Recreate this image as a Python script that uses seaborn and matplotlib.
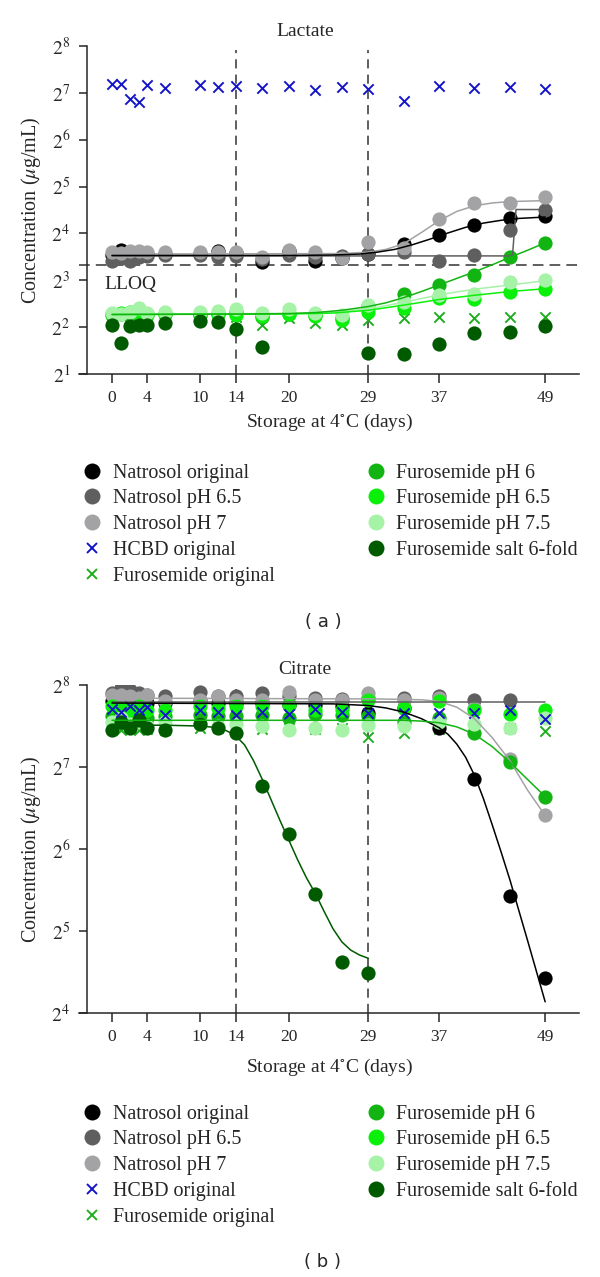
import numpy as np
import matplotlib
matplotlib.use("Agg")
import matplotlib.pyplot as plt
import seaborn as sns
from matplotlib.lines import Line2D

nan = np.nan

# sampling days (storage at 4 C)
days = [0, 1, 2, 3, 4, 6, 10, 12, 14, 17, 20, 23, 26, 29, 33, 37, 41, 45, 49]
day_ticks = [0, 4, 10, 14, 20, 29, 37, 49]
storage_marks = [14, 29]
lloq = 10  # ug/mL

# all values below are log2 of the concentration (ug/mL)
# ---- Lactate ----
lac_nat_orig = [3.55, 3.64, 3.52, 3.55, 3.57, 3.56, 3.57, 3.62, 3.58, 3.40, 3.62, 3.42, 3.48, 3.57, 3.77, 3.96, 4.19, 4.32, 4.37]
lac_nat_65 = [3.42, 3.48, 3.42, 3.50, 3.52, 3.55, 3.55, 3.50, 3.52, 3.45, 3.55, 3.50, 3.52, 3.57, 3.61, 3.42, 3.54, 4.08, 4.51]
lac_nat_7 = [3.60, 3.58, 3.62, 3.62, 3.60, 3.60, 3.61, 3.60, 3.61, 3.50, 3.64, 3.61, 3.47, 3.82, 3.68, 4.30, 4.64, 4.64, 4.77]
lac_hcbd = [7.18, 7.18, 6.86, 6.81, 7.16, 7.11, 7.17, 7.13, 7.15, 7.11, 7.15, 7.07, 7.12, 7.09, 6.83, 7.14, 7.10, 7.12, 7.08]
lac_furo_orig = [2.24, 2.24, 2.26, 2.25, 2.24, 2.24, 2.22, 2.22, 2.22, 2.04, 2.20, 2.08, 2.04, 2.16, 2.19, 2.22, 2.19, 2.22, 2.22]
lac_furo_6 = [2.25, 2.27, 2.30, 2.33, 2.28, 2.27, 2.25, 2.28, 2.33, 2.22, 2.28, 2.25, 2.20, 2.45, 2.71, 2.90, 3.11, 3.50, 3.80]
lac_furo_65 = [2.27, 2.30, 2.33, 2.28, 2.25, 2.27, 2.26, 2.28, 2.25, 2.24, 2.27, 2.24, 2.16, 2.33, 2.41, 2.62, 2.60, 2.76, 2.81]
lac_furo_75 = [2.30, 2.28, 2.33, 2.40, 2.30, 2.33, 2.33, 2.35, 2.38, 2.30, 2.38, 2.31, 2.25, 2.47, 2.54, 2.68, 2.71, 2.96, 3.00]
lac_furo_salt = [2.04, 1.67, 2.03, 2.04, 2.04, 2.08, 2.13, 2.10, 1.95, 1.58, nan, nan, nan, 1.45, 1.42, 1.63, 1.88, 1.90, 2.03]

# fitted curves (lactate)
lac_fit_nat_orig_d = [0, 20, 25, 28, 30, 32, 34, 36, 38, 40, 42, 44, 46, 49]
lac_fit_nat_orig = [3.53, 3.53, 3.54, 3.56, 3.60, 3.66, 3.76, 3.88, 4.01, 4.13, 4.22, 4.28, 4.32, 4.35]
lac_fit_nat_65_d = [0, 45.3, 45.7, 49]
lac_fit_nat_65 = [3.52, 3.52, 4.51, 4.51]
lac_fit_nat_7_d = [0, 26, 29, 31, 33, 35, 37, 39, 41, 43, 45, 49]
lac_fit_nat_7 = [3.56, 3.57, 3.60, 3.66, 3.78, 4.02, 4.27, 4.47, 4.59, 4.65, 4.68, 4.70]
lac_fit_furo_6_d = [0, 15, 20, 23, 26, 29, 31, 33, 35, 37, 39, 41, 43, 45, 47, 49]
lac_fit_furo_6 = [2.27, 2.28, 2.29, 2.31, 2.36, 2.44, 2.52, 2.63, 2.76, 2.90, 3.04, 3.18, 3.33, 3.49, 3.64, 3.80]
lac_fit_furo_65_d = [0, 20, 25, 29, 33, 37, 41, 45, 49]
lac_fit_furo_65 = [2.27, 2.28, 2.30, 2.36, 2.47, 2.59, 2.68, 2.76, 2.82]
lac_fit_furo_75_d = [0, 20, 25, 29, 33, 37, 41, 45, 49]
lac_fit_furo_75 = [2.28, 2.29, 2.32, 2.39, 2.53, 2.69, 2.81, 2.90, 2.99]

# ---- Citrate ----
cit_nat_orig = [7.80, 7.82, 7.80, 7.80, 7.78, 7.78, 7.80, 7.78, 7.78, 7.78, 7.76, 7.76, 7.75, 7.66, 7.72, 7.47, 6.85, 5.43, 4.43]
cit_nat_65 = [7.90, 7.96, 7.94, 7.90, 7.88, 7.86, 7.92, 7.86, 7.86, 7.90, 7.86, 7.84, 7.83, 7.84, 7.84, 7.86, 7.82, 7.82, nan]
cit_nat_7 = [7.88, 7.88, 7.86, 7.84, 7.88, 7.80, 7.82, 7.86, 7.82, 7.82, 7.92, 7.82, 7.82, 7.90, 7.82, 7.84, 7.72, 7.10, 6.41]
cit_hcbd = [7.71, 7.67, 7.75, 7.69, 7.73, 7.64, 7.70, 7.67, 7.64, 7.67, 7.65, 7.71, 7.67, 7.66, 7.66, 7.66, 7.66, 7.69, 7.59]
cit_furo_orig = [7.46, 7.45, 7.47, 7.45, 7.46, 7.45, 7.48, 7.47, 7.46, 7.46, 7.47, 7.46, 7.47, 7.37, 7.41, 7.46, 7.47, 7.48, 7.44]
cit_furo_6 = [7.62, 7.64, 7.66, 7.62, 7.60, 7.62, 7.64, 7.62, 7.62, 7.63, 7.60, 7.65, 7.63, 7.62, 7.55, 7.60, 7.41, 7.06, 6.63]
cit_furo_65 = [7.74, 7.72, 7.70, 7.74, 7.70, 7.70, 7.74, 7.72, 7.74, 7.74, 7.76, 7.70, 7.70, 7.82, 7.72, 7.80, 7.70, 7.65, 7.70]
cit_furo_75 = [7.55, 7.60, 7.52, 7.55, 7.50, 7.55, 7.52, 7.50, 7.52, 7.50, 7.45, 7.47, 7.45, 7.51, 7.50, 7.55, 7.53, 7.48, 7.60]
cit_furo_salt = [7.45, 7.55, 7.47, 7.57, 7.47, 7.45, 7.53, 7.48, 7.42, 6.77, 6.19, 5.45, 4.62, 4.49, nan, nan, nan, nan, nan]

# fitted curves (citrate)
cit_fit_nat_orig_d = [0, 25, 29, 31, 33, 35, 37, 38, 39, 40, 41, 42, 43, 44, 45, 47, 49]
cit_fit_nat_orig = [7.78, 7.77, 7.75, 7.72, 7.67, 7.59, 7.48, 7.40, 7.28, 7.12, 6.90, 6.62, 6.30, 5.97, 5.63, 4.89, 4.14]
cit_fit_nat_65_d = [0, 49]
cit_fit_nat_65 = [7.79, 7.79]
cit_fit_nat_7_d = [0, 30, 35, 37, 39, 41, 43, 45, 47, 49]
cit_fit_nat_7 = [7.84, 7.83, 7.82, 7.80, 7.73, 7.59, 7.36, 7.08, 6.72, 6.41]
cit_fit_furo_6_d = [0, 33, 35, 37, 39, 41, 43, 45, 47, 49]
cit_fit_furo_6 = [7.57, 7.57, 7.56, 7.54, 7.49, 7.40, 7.25, 7.06, 6.85, 6.64]
cit_fit_salt_d = [0, 6, 10, 12, 13, 14, 15, 16, 17, 18, 19, 20, 21, 22, 23, 24, 25, 26, 27, 28, 29]
cit_fit_salt = [7.51, 7.51, 7.50, 7.48, 7.44, 7.38, 7.27, 7.08, 6.85, 6.60, 6.35, 6.11, 5.87, 5.65, 5.46, 5.24, 5.03, 4.87, 4.77, 4.71, 4.67]

labels = ["Natrosol original", "Natrosol pH 6.5", "Natrosol pH 7", "HCBD original",
          "Furosemide original", "Furosemide pH 6", "Furosemide pH 6.5",
          "Furosemide pH 7.5", "Furosemide salt 6-fold"]
colors = {
    "Natrosol original": "#000000",
    "Natrosol pH 6.5": "#5f5f5f",
    "Natrosol pH 7": "#a3a3a6",
    "HCBD original": "#1414c8",
    "Furosemide original": "#1fae1f",
    "Furosemide pH 6": "#12b412",
    "Furosemide pH 6.5": "#0af00a",
    "Furosemide pH 7.5": "#a6f2a6",
    "Furosemide salt 6-fold": "#005a00",
}

sns.set_style("ticks")
plt.rcParams["font.family"] = ["Liberation Serif", "DejaVu Serif"]
plt.rcParams["mathtext.fontset"] = "stix"

W, H = 600, 1277
fig = plt.figure(figsize=(W / 100, H / 100), dpi=100)


def fx(px):
    return px / W


def fy(py):
    return 1 - py / H


def pw(v):
    return 2.0 ** np.asarray(v, dtype=float)


def draw_panel(ax, pts, fits, ylo, yhi):
    # green crosses underneath, circles, blue crosses, then fit curves on top
    name, vals = pts["Furosemide original"]
    sns.scatterplot(x=days, y=pw(vals), marker="x", s=55, linewidth=1.4,
                    color=colors[name], ax=ax, zorder=2)
    for name in ["Natrosol original", "Natrosol pH 6.5", "Natrosol pH 7",
                 "Furosemide pH 6", "Furosemide pH 6.5", "Furosemide pH 7.5",
                 "Furosemide salt 6-fold"]:
        vals = pts[name][1]
        sns.scatterplot(x=days, y=pw(vals), marker="o", s=105, linewidth=0,
                        color=colors[name], ax=ax, zorder=3)
    vals = pts["HCBD original"][1]
    sns.scatterplot(x=days, y=pw(vals), marker="x", s=55, linewidth=1.4,
                    color=colors["HCBD original"], ax=ax, zorder=4)
    for name, (fd, fv) in fits.items():
        sns.lineplot(x=fd, y=pw(fv), color=colors[name], lw=1.1,
                     estimator=None, ax=ax, zorder=5)

    ax.set_yscale("log", base=2)
    ax.set_xlim(-3.79, 52.86)
    ax.set_ylim(2 ** ylo, 2 ** yhi)
    ax.set_yticks([2 ** i for i in range(ylo, yhi + 1)])
    ax.set_yticklabels([f"$2^{{{i}}}$" for i in range(ylo, yhi + 1)])
    ax.yaxis.set_minor_locator(matplotlib.ticker.NullLocator())
    ax.set_xticks(day_ticks)
    ax.set_xticklabels([str(d) for d in day_ticks])
    ax.set_xlabel("")
    ax.set_ylabel("")
    sns.despine(ax=ax)
    ax.spines["left"].set_position(("data", -2.86))
    ax.spines["left"].set_bounds(2 ** ylo, 2 ** yhi)
    for s in ["left", "bottom"]:
        ax.spines[s].set_linewidth(1.1)
    ax.tick_params(axis="x", length=6.5, width=1.1, pad=5, labelsize=12.5)
    ax.tick_params(axis="y", length=6, width=1.1, pad=6, labelsize=14)
    for d in storage_marks:
        ax.axvline(d, ymin=0, ymax=0.987, color="#333333", lw=1.1,
                   dashes=(6, 4), zorder=1)


def add_legends(top_px):
    col1 = labels[:5]
    col2 = labels[5:]
    for col, x0 in [(col1, 84.2), (col2, 367.7)]:
        handles = []
        for name in col:
            if name in ("HCBD original", "Furosemide original"):
                h = Line2D([], [], ls="", marker="x", markersize=7.5, mew=1.4,
                           color=colors[name])
            else:
                h = Line2D([], [], ls="", marker="o", markersize=11.5, mew=0,
                           color=colors[name])
            handles.append(h)
        fig.legend(handles, col, loc="upper left",
                   bbox_to_anchor=(fx(x0), fy(top_px)), frameon=False,
                   borderpad=0, borderaxespad=0, handlelength=0.8,
                   handletextpad=0.63, labelspacing=0.34, fontsize=14.4)


# ---- panel (a) Lactate ----
ax_a = fig.add_axes([fx(78.5), fy(374), fx(500.8), 328 / H])
pts_a = {
    "Natrosol original": ("Natrosol original", lac_nat_orig),
    "Natrosol pH 6.5": ("Natrosol pH 6.5", lac_nat_65),
    "Natrosol pH 7": ("Natrosol pH 7", lac_nat_7),
    "HCBD original": ("HCBD original", lac_hcbd),
    "Furosemide original": ("Furosemide original", lac_furo_orig),
    "Furosemide pH 6": ("Furosemide pH 6", lac_furo_6),
    "Furosemide pH 6.5": ("Furosemide pH 6.5", lac_furo_65),
    "Furosemide pH 7.5": ("Furosemide pH 7.5", lac_furo_75),
    "Furosemide salt 6-fold": ("Furosemide salt 6-fold", lac_furo_salt),
}
fits_a = {
    "Natrosol pH 6.5": (lac_fit_nat_65_d, lac_fit_nat_65),
    "Natrosol pH 7": (lac_fit_nat_7_d, lac_fit_nat_7),
    "Natrosol original": (lac_fit_nat_orig_d, lac_fit_nat_orig),
    "Furosemide pH 7.5": (lac_fit_furo_75_d, lac_fit_furo_75),
    "Furosemide pH 6.5": (lac_fit_furo_65_d, lac_fit_furo_65),
    "Furosemide pH 6": (lac_fit_furo_6_d, lac_fit_furo_6),
}
draw_panel(ax_a, pts_a, fits_a, 1, 8)
ax_a.axhline(lloq, color="#333333", lw=1.1, dashes=(7, 4), zorder=1)
ax_a.text(-0.9, 2 ** 2.92, "LLOQ", fontsize=14, ha="left", va="center")

fig.text(fx(305), fy(31), "Lactate", ha="center", va="center", fontsize=14)
fig.text(fx(30.6), fy(210), r"Concentration ($\mu$g/mL)", rotation=90,
         ha="center", va="center", fontsize=14.5)
fig.text(fx(330), fy(422.5), r"Storage at 4$^{\circ}$C (days)", ha="center",
         va="center", fontsize=14)
add_legends(463.5)
fig.text(fx(323), fy(621.7), "( a )", ha="center", va="center", fontsize=13,
         family="DejaVu Sans")

# ---- panel (b) Citrate ----
ax_b = fig.add_axes([fx(78.5), fy(1013.3), fx(500.8), 328.3 / H])
pts_b = {
    "Natrosol original": ("Natrosol original", cit_nat_orig),
    "Natrosol pH 6.5": ("Natrosol pH 6.5", cit_nat_65),
    "Natrosol pH 7": ("Natrosol pH 7", cit_nat_7),
    "HCBD original": ("HCBD original", cit_hcbd),
    "Furosemide original": ("Furosemide original", cit_furo_orig),
    "Furosemide pH 6": ("Furosemide pH 6", cit_furo_6),
    "Furosemide pH 6.5": ("Furosemide pH 6.5", cit_furo_65),
    "Furosemide pH 7.5": ("Furosemide pH 7.5", cit_furo_75),
    "Furosemide salt 6-fold": ("Furosemide salt 6-fold", cit_furo_salt),
}
fits_b = {
    "Natrosol pH 7": (cit_fit_nat_7_d, cit_fit_nat_7),
    "Natrosol pH 6.5": (cit_fit_nat_65_d, cit_fit_nat_65),
    "Natrosol original": (cit_fit_nat_orig_d, cit_fit_nat_orig),
    "Furosemide pH 6": (cit_fit_furo_6_d, cit_fit_furo_6),
    "Furosemide salt 6-fold": (cit_fit_salt_d, cit_fit_salt),
}
draw_panel(ax_b, pts_b, fits_b, 4, 8)

fig.text(fx(305), fy(669.3), "Citrate", ha="center", va="center", fontsize=14)
fig.text(fx(30.6), fy(849), r"Concentration ($\mu$g/mL)", rotation=90,
         ha="center", va="center", fontsize=14.5)
fig.text(fx(330), fy(1067.5), r"Storage at 4$^{\circ}$C (days)", ha="center",
         va="center", fontsize=14)
add_legends(1104.5)
fig.text(fx(323), fy(1261.7), "( b )", ha="center", va="center", fontsize=13,
         family="DejaVu Sans")

fig.savefig("out.png", dpi=100)
